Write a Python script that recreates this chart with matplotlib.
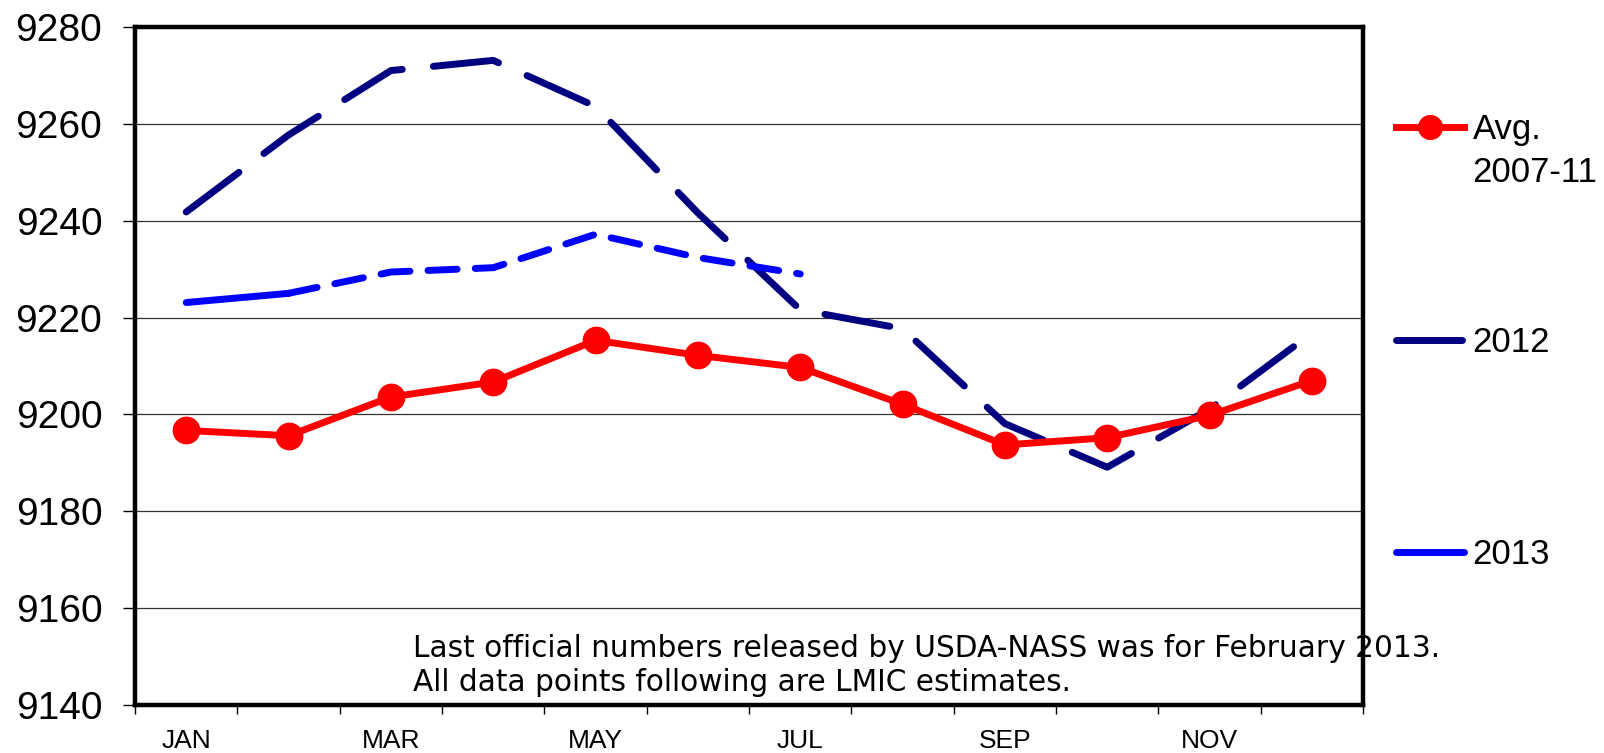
import numpy as np
import matplotlib
matplotlib.use("Agg")
import matplotlib.pyplot as plt

# monthly values
months = ["JAN", "FEB", "MAR", "APR", "MAY", "JUN", "JUL", "AUG", "SEP", "OCT", "NOV", "DEC"]
avg_0711 = [9196.7, 9195.6, 9203.6, 9206.7, 9215.3, 9212.2, 9209.7, 9202.1, 9193.7, 9195.2, 9199.8, 9207.0]
y2012 = [9241.8, 9257.7, 9271.0, 9273.1, 9263.6, 9241.6, 9221.6, 9217.7, 9198.1, 9189.1, 9201.1, 9216.8]
y2013 = [9223.1, 9225.0, 9229.4, 9230.3, 9237.2, 9232.4, 9229.0]
n_official = 2  # JAN-FEB 2013 are official numbers

yticks = np.arange(9140, 9281, 20)
note = ("Last official numbers released by USDA-NASS was for February 2013.\n"
        "All data points following are LMIC estimates.")

plt.rcParams["font.family"] = ["Liberation Sans", "DejaVu Sans"]

fig = plt.figure(figsize=(16.04, 7.53), dpi=100)
ax = fig.add_axes([0.0842, 0.0637, 0.7656, 0.9005])

x = np.arange(len(months))

# 2012 - long dashes
ax.plot(x, y2012, color="#000080", lw=5, dashes=(9.5, 4.5),
        dash_capstyle="round", solid_capstyle="round", label="2012", zorder=3)

# 2013 - solid for official months, short dashes for estimates
x13 = np.arange(len(y2013))
ax.plot(x13[:n_official], y2013[:n_official], color="#0000FF", lw=5,
        solid_capstyle="round", label="2013", zorder=3)
ax.plot(x13[n_official - 1:], y2013[n_official - 1:], color="#0000FF", lw=5,
        dashes=(4.2, 2.6), dash_capstyle="round", zorder=3)

# average 2007-11
ax.plot(x, avg_0711, color="#FF0000", lw=5, marker="o", markersize=19,
        label="Avg.", zorder=4)

ax.set_xlim(-0.5, len(months) - 0.5)
ax.set_ylim(9140, 9280)
ax.set_yticks(yticks)
ax.set_yticklabels([str(v) for v in yticks], fontsize=28)
ax.yaxis.grid(True, color="#333333", lw=0.9)
ax.set_axisbelow(True)

# category labels every other month, tick marks on boundaries
ax.set_xticks(x[::2])
ax.set_xticklabels(months[::2], fontsize=19)
ax.set_xticks(np.arange(-0.5, len(months)), minor=True)
ax.tick_params(axis="x", which="major", length=0, pad=17.5)
ax.tick_params(axis="x", which="minor", length=6.5, width=1, direction="out")
ax.tick_params(axis="y", length=8.6, width=1, direction="out", pad=15)

for s in ax.spines.values():
    s.set_linewidth(3.2)
    s.set_color("black")

ax.text(0.2264, 0.012, note, transform=ax.transAxes, fontsize=21.3,
        family="DejaVu Sans", ha="left", va="bottom", linespacing=1.2)

handles, labels = ax.get_legend_handles_labels()
order = [2, 0, 1]
leg = ax.legend([handles[i] for i in order], [labels[i] for i in order],
                loc="center left", bbox_to_anchor=(1.027, 0.535), frameon=False,
                fontsize=25, handlelength=1.95, handletextpad=0.25,
                labelspacing=5.17, borderaxespad=0, borderpad=0, markerscale=0.9)
# second line of the first legend label, kept under "Avg." like the original
ax.annotate("2007-11", xy=(0, 0), xycoords=leg.get_texts()[0],
            xytext=(0, -7), textcoords="offset points",
            ha="left", va="top", fontsize=25, zorder=10)

fig.savefig("out.png", dpi=100)
